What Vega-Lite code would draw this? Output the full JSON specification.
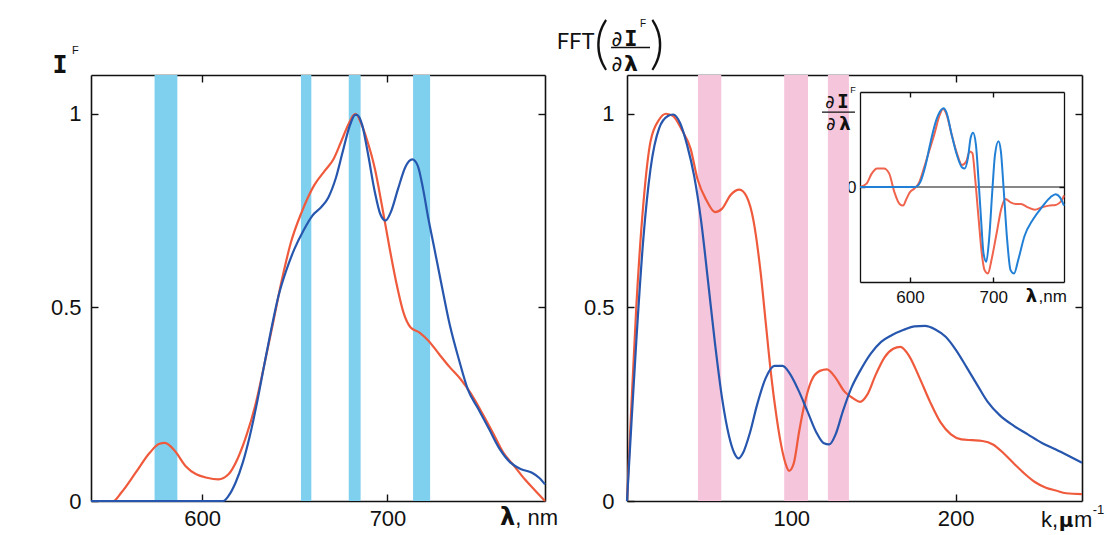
{
  "$schema": "https://vega.github.io/schema/vega-lite/v6.json",
  "width": 1107,
  "height": 535,
  "autosize": {"type": "none"},
  "padding": 0,
  "background": "white",
  "config": {
    "view": {"stroke": null},
    "axis": {"grid": false, "domainColor": "#111111", "domainWidth": 1.6, "tickColor": "#111111", "tickWidth": 1.4, "tickSize": -7, "labelFont": "Liberation Sans", "labelFontSize": 22, "labelColor": "#111111", "zindex": 1, "labelFlush": false, "labelOverlap": false},
    "text": {"color": "#111111"}
  },
  "datasets": {
    "bandsL": [{"start": 574.3, "end": 586.6}, {"start": 653.3, "end": 658.9}, {"start": 679.1, "end": 685.5}, {"start": 713.8, "end": 723.0}],
    "bandsR": [{"start": 43.2, "end": 57.4}, {"start": 95.7, "end": 110.2}, {"start": 122.3, "end": 135.1}],
    "left": [
      {"series": "red", "x": 540, "y": 0}, {"series": "red", "x": 552, "y": 0}, {"series": "red", "x": 556.4, "y": 0.022}, {"series": "red", "x": 564.1, "y": 0.073}, {"series": "red", "x": 571.8, "y": 0.125}, {"series": "red", "x": 576.6, "y": 0.147}, {"series": "red", "x": 579.9, "y": 0.15}, {"series": "red", "x": 585.3, "y": 0.129}, {"series": "red", "x": 591.1, "y": 0.09}, {"series": "red", "x": 596.8, "y": 0.069}, {"series": "red", "x": 602.6, "y": 0.06}, {"series": "red", "x": 608.8, "y": 0.056}, {"series": "red", "x": 614.2, "y": 0.069}, {"series": "red", "x": 619, "y": 0.108}, {"series": "red", "x": 623.8, "y": 0.168}, {"series": "red", "x": 628.6, "y": 0.246}, {"series": "red", "x": 633.4, "y": 0.349}, {"series": "red", "x": 638.3, "y": 0.461}, {"series": "red", "x": 643.1, "y": 0.573}, {"series": "red", "x": 647.9, "y": 0.668}, {"series": "red", "x": 653.7, "y": 0.746}, {"series": "red", "x": 660.4, "y": 0.815}, {"series": "red", "x": 666.2, "y": 0.853}, {"series": "red", "x": 671, "y": 0.884}, {"series": "red", "x": 674.9, "y": 0.927}, {"series": "red", "x": 678.7, "y": 0.97}, {"series": "red", "x": 681.6, "y": 0.996}, {"series": "red", "x": 682.8, "y": 1.0}, {"series": "red", "x": 685.5, "y": 0.978}, {"series": "red", "x": 689.3, "y": 0.927}, {"series": "red", "x": 693.2, "y": 0.858}, {"series": "red", "x": 697, "y": 0.763}, {"series": "red", "x": 700.9, "y": 0.659}, {"series": "red", "x": 704.7, "y": 0.565}, {"series": "red", "x": 708.6, "y": 0.487}, {"series": "red", "x": 712.5, "y": 0.448}, {"series": "red", "x": 717.3, "y": 0.435}, {"series": "red", "x": 722.1, "y": 0.414}, {"series": "red", "x": 727.9, "y": 0.379}, {"series": "red", "x": 733.7, "y": 0.345}, {"series": "red", "x": 739.4, "y": 0.315}, {"series": "red", "x": 745.2, "y": 0.276}, {"series": "red", "x": 751, "y": 0.228}, {"series": "red", "x": 756.8, "y": 0.177}, {"series": "red", "x": 762.5, "y": 0.125}, {"series": "red", "x": 768.3, "y": 0.091}, {"series": "red", "x": 774.1, "y": 0.056}, {"series": "red", "x": 779.9, "y": 0.026}, {"series": "red", "x": 785, "y": 0},
      {"series": "blue", "x": 540, "y": 0}, {"series": "blue", "x": 611.3, "y": 0}, {"series": "blue", "x": 614.2, "y": 0.013}, {"series": "blue", "x": 618, "y": 0.047}, {"series": "blue", "x": 621.9, "y": 0.099}, {"series": "blue", "x": 625.7, "y": 0.168}, {"series": "blue", "x": 629.6, "y": 0.254}, {"series": "blue", "x": 633.4, "y": 0.349}, {"series": "blue", "x": 637.3, "y": 0.444}, {"series": "blue", "x": 641.2, "y": 0.53}, {"series": "blue", "x": 645, "y": 0.59}, {"series": "blue", "x": 649.8, "y": 0.651}, {"series": "blue", "x": 654.6, "y": 0.698}, {"series": "blue", "x": 659.5, "y": 0.737}, {"series": "blue", "x": 664.3, "y": 0.759}, {"series": "blue", "x": 668.1, "y": 0.784}, {"series": "blue", "x": 672, "y": 0.832}, {"series": "blue", "x": 675.8, "y": 0.901}, {"series": "blue", "x": 679.7, "y": 0.97}, {"series": "blue", "x": 682.6, "y": 0.997}, {"series": "blue", "x": 683.5, "y": 0.997}, {"series": "blue", "x": 686.4, "y": 0.97}, {"series": "blue", "x": 689.3, "y": 0.901}, {"series": "blue", "x": 693.2, "y": 0.797}, {"series": "blue", "x": 696.1, "y": 0.741}, {"series": "blue", "x": 699, "y": 0.724}, {"series": "blue", "x": 701.8, "y": 0.746}, {"series": "blue", "x": 705.7, "y": 0.806}, {"series": "blue", "x": 709.6, "y": 0.862}, {"series": "blue", "x": 713.4, "y": 0.882}, {"series": "blue", "x": 716.3, "y": 0.866}, {"series": "blue", "x": 719.2, "y": 0.806}, {"series": "blue", "x": 722.1, "y": 0.728}, {"series": "blue", "x": 725, "y": 0.659}, {"series": "blue", "x": 728.9, "y": 0.565}, {"series": "blue", "x": 733.7, "y": 0.453}, {"series": "blue", "x": 738.5, "y": 0.366}, {"series": "blue", "x": 743.3, "y": 0.289}, {"series": "blue", "x": 749.1, "y": 0.237}, {"series": "blue", "x": 754.9, "y": 0.185}, {"series": "blue", "x": 760.6, "y": 0.134}, {"series": "blue", "x": 766.4, "y": 0.099}, {"series": "blue", "x": 772.2, "y": 0.082}, {"series": "blue", "x": 778, "y": 0.073}, {"series": "blue", "x": 781.8, "y": 0.06}, {"series": "blue", "x": 785, "y": 0.043}
    ],
    "right": [
      {"series": "red", "x": 0, "y": 0}, {"series": "red", "x": 2.6, "y": 0.239}, {"series": "red", "x": 5.7, "y": 0.504}, {"series": "red", "x": 10, "y": 0.769}, {"series": "red", "x": 14.3, "y": 0.928}, {"series": "red", "x": 19.6, "y": 0.985}, {"series": "red", "x": 23.8, "y": 1.0}, {"series": "red", "x": 28.1, "y": 0.994}, {"series": "red", "x": 33.4, "y": 0.958}, {"series": "red", "x": 38.7, "y": 0.91}, {"series": "red", "x": 43, "y": 0.83}, {"series": "red", "x": 48.3, "y": 0.777}, {"series": "red", "x": 53.6, "y": 0.746}, {"series": "red", "x": 57.9, "y": 0.755}, {"series": "red", "x": 63.2, "y": 0.791}, {"series": "red", "x": 68.5, "y": 0.804}, {"series": "red", "x": 72.8, "y": 0.786}, {"series": "red", "x": 77, "y": 0.724}, {"series": "red", "x": 81.3, "y": 0.592}, {"series": "red", "x": 84.5, "y": 0.459}, {"series": "red", "x": 87.7, "y": 0.327}, {"series": "red", "x": 90.9, "y": 0.221}, {"series": "red", "x": 94, "y": 0.141}, {"series": "red", "x": 96.8, "y": 0.093}, {"series": "red", "x": 98.7, "y": 0.078}, {"series": "red", "x": 101.5, "y": 0.097}, {"series": "red", "x": 104.7, "y": 0.177}, {"series": "red", "x": 107.9, "y": 0.247}, {"series": "red", "x": 112.1, "y": 0.309}, {"series": "red", "x": 117.4, "y": 0.336}, {"series": "red", "x": 121.7, "y": 0.34}, {"series": "red", "x": 127, "y": 0.318}, {"series": "red", "x": 132.3, "y": 0.283}, {"series": "red", "x": 137.7, "y": 0.265}, {"series": "red", "x": 141.9, "y": 0.256}, {"series": "red", "x": 146.2, "y": 0.274}, {"series": "red", "x": 151.5, "y": 0.327}, {"series": "red", "x": 156.8, "y": 0.371}, {"series": "red", "x": 162.1, "y": 0.393}, {"series": "red", "x": 166.4, "y": 0.398}, {"series": "red", "x": 171.7, "y": 0.375}, {"series": "red", "x": 178.1, "y": 0.318}, {"series": "red", "x": 184.5, "y": 0.256}, {"series": "red", "x": 190.9, "y": 0.203}, {"series": "red", "x": 197.2, "y": 0.172}, {"series": "red", "x": 203.6, "y": 0.159}, {"series": "red", "x": 210, "y": 0.157}, {"series": "red", "x": 216.4, "y": 0.155}, {"series": "red", "x": 222.8, "y": 0.146}, {"series": "red", "x": 229.1, "y": 0.124}, {"series": "red", "x": 235.5, "y": 0.097}, {"series": "red", "x": 241.9, "y": 0.071}, {"series": "red", "x": 248.3, "y": 0.049}, {"series": "red", "x": 254.7, "y": 0.035}, {"series": "red", "x": 261.1, "y": 0.027}, {"series": "red", "x": 267.4, "y": 0.02}, {"series": "red", "x": 277, "y": 0.018},
      {"series": "blue", "x": 0, "y": 0}, {"series": "blue", "x": 2.6, "y": 0.194}, {"series": "blue", "x": 5.7, "y": 0.415}, {"series": "blue", "x": 10, "y": 0.68}, {"series": "blue", "x": 14.3, "y": 0.857}, {"series": "blue", "x": 19.6, "y": 0.963}, {"series": "blue", "x": 24.9, "y": 0.994}, {"series": "blue", "x": 28.1, "y": 0.998}, {"series": "blue", "x": 32.3, "y": 0.976}, {"series": "blue", "x": 36.6, "y": 0.919}, {"series": "blue", "x": 40.9, "y": 0.839}, {"series": "blue", "x": 45.1, "y": 0.724}, {"series": "blue", "x": 49.4, "y": 0.565}, {"series": "blue", "x": 53.6, "y": 0.406}, {"series": "blue", "x": 57.9, "y": 0.265}, {"series": "blue", "x": 62.1, "y": 0.168}, {"series": "blue", "x": 65.3, "y": 0.124}, {"series": "blue", "x": 67.9, "y": 0.11}, {"series": "blue", "x": 70.6, "y": 0.124}, {"series": "blue", "x": 74.9, "y": 0.177}, {"series": "blue", "x": 79.1, "y": 0.247}, {"series": "blue", "x": 84.5, "y": 0.318}, {"series": "blue", "x": 89.8, "y": 0.349}, {"series": "blue", "x": 94.7, "y": 0.349}, {"series": "blue", "x": 99.4, "y": 0.327}, {"series": "blue", "x": 104.7, "y": 0.283}, {"series": "blue", "x": 110, "y": 0.23}, {"series": "blue", "x": 115.3, "y": 0.177}, {"series": "blue", "x": 119.6, "y": 0.15}, {"series": "blue", "x": 123.2, "y": 0.146}, {"series": "blue", "x": 127, "y": 0.172}, {"series": "blue", "x": 131.3, "y": 0.23}, {"series": "blue", "x": 136.6, "y": 0.292}, {"series": "blue", "x": 141.9, "y": 0.336}, {"series": "blue", "x": 148.3, "y": 0.38}, {"series": "blue", "x": 154.7, "y": 0.411}, {"series": "blue", "x": 161.1, "y": 0.428}, {"series": "blue", "x": 168.5, "y": 0.442}, {"series": "blue", "x": 174.9, "y": 0.451}, {"series": "blue", "x": 181.3, "y": 0.452}, {"series": "blue", "x": 187.7, "y": 0.443}, {"series": "blue", "x": 194, "y": 0.424}, {"series": "blue", "x": 200.4, "y": 0.389}, {"series": "blue", "x": 206.8, "y": 0.345}, {"series": "blue", "x": 213.2, "y": 0.3}, {"series": "blue", "x": 219.6, "y": 0.256}, {"series": "blue", "x": 227, "y": 0.221}, {"series": "blue", "x": 235.5, "y": 0.194}, {"series": "blue", "x": 244, "y": 0.172}, {"series": "blue", "x": 252.6, "y": 0.15}, {"series": "blue", "x": 261.1, "y": 0.133}, {"series": "blue", "x": 269.6, "y": 0.115}, {"series": "blue", "x": 277, "y": 0.099}
    ],
    "inset": [
      {"series": "red", "x": 540, "y": 0}, {"series": "red", "x": 547.9, "y": 0.036}, {"series": "red", "x": 554.2, "y": 0.143}, {"series": "red", "x": 560.4, "y": 0.196}, {"series": "red", "x": 568.8, "y": 0.196}, {"series": "red", "x": 575, "y": 0.143}, {"series": "red", "x": 581.3, "y": -0.054}, {"series": "red", "x": 587.5, "y": -0.179}, {"series": "red", "x": 591.7, "y": -0.196}, {"series": "red", "x": 595.8, "y": -0.125}, {"series": "red", "x": 600, "y": -0.054}, {"series": "red", "x": 605, "y": -0.018}, {"series": "red", "x": 610.4, "y": 0.036}, {"series": "red", "x": 616.7, "y": 0.196}, {"series": "red", "x": 622.9, "y": 0.375}, {"series": "red", "x": 629.2, "y": 0.554}, {"series": "red", "x": 635.4, "y": 0.75}, {"series": "red", "x": 639.6, "y": 0.821}, {"series": "red", "x": 643.8, "y": 0.768}, {"series": "red", "x": 650, "y": 0.554}, {"series": "red", "x": 656.3, "y": 0.357}, {"series": "red", "x": 662.5, "y": 0.232}, {"series": "red", "x": 667.5, "y": 0.268}, {"series": "red", "x": 671.7, "y": 0.375}, {"series": "red", "x": 675, "y": 0.357}, {"series": "red", "x": 678.3, "y": 0.089}, {"series": "red", "x": 682.5, "y": -0.339}, {"series": "red", "x": 686.7, "y": -0.732}, {"series": "red", "x": 689.6, "y": -0.875}, {"series": "red", "x": 693.8, "y": -0.911}, {"series": "red", "x": 697.9, "y": -0.768}, {"series": "red", "x": 704.2, "y": -0.482}, {"series": "red", "x": 709.6, "y": -0.232}, {"series": "red", "x": 714.6, "y": -0.125}, {"series": "red", "x": 720.8, "y": -0.161}, {"series": "red", "x": 727.1, "y": -0.179}, {"series": "red", "x": 733.3, "y": -0.179}, {"series": "red", "x": 741.7, "y": -0.214}, {"series": "red", "x": 750, "y": -0.239}, {"series": "red", "x": 758.3, "y": -0.214}, {"series": "red", "x": 766.7, "y": -0.196}, {"series": "red", "x": 775, "y": -0.189}, {"series": "red", "x": 783.3, "y": -0.125}, {"series": "red", "x": 785, "y": -0.089},
      {"series": "blue", "x": 540, "y": 0}, {"series": "blue", "x": 606.3, "y": 0}, {"series": "blue", "x": 612.5, "y": 0.054}, {"series": "blue", "x": 618.8, "y": 0.232}, {"series": "blue", "x": 625, "y": 0.482}, {"series": "blue", "x": 631.3, "y": 0.696}, {"series": "blue", "x": 637.5, "y": 0.811}, {"series": "blue", "x": 640.4, "y": 0.829}, {"series": "blue", "x": 643.8, "y": 0.786}, {"series": "blue", "x": 650, "y": 0.554}, {"series": "blue", "x": 656.3, "y": 0.339}, {"series": "blue", "x": 662.5, "y": 0.207}, {"series": "blue", "x": 665.8, "y": 0.196}, {"series": "blue", "x": 669.6, "y": 0.304}, {"series": "blue", "x": 672.9, "y": 0.518}, {"series": "blue", "x": 675.8, "y": 0.571}, {"series": "blue", "x": 679.2, "y": 0.446}, {"series": "blue", "x": 682.5, "y": 0.054}, {"series": "blue", "x": 685.4, "y": -0.339}, {"series": "blue", "x": 688.3, "y": -0.696}, {"series": "blue", "x": 691.7, "y": -0.786}, {"series": "blue", "x": 695, "y": -0.554}, {"series": "blue", "x": 698.8, "y": -0.054}, {"series": "blue", "x": 702.1, "y": 0.339}, {"series": "blue", "x": 706.3, "y": 0.482}, {"series": "blue", "x": 709.2, "y": 0.375}, {"series": "blue", "x": 712.5, "y": -0.018}, {"series": "blue", "x": 716.7, "y": -0.554}, {"series": "blue", "x": 720.8, "y": -0.875}, {"series": "blue", "x": 725, "y": -0.911}, {"series": "blue", "x": 730, "y": -0.768}, {"series": "blue", "x": 737.5, "y": -0.518}, {"series": "blue", "x": 747.9, "y": -0.339}, {"series": "blue", "x": 758.3, "y": -0.214}, {"series": "blue", "x": 768.8, "y": -0.107}, {"series": "blue", "x": 775, "y": -0.075}, {"series": "blue", "x": 780, "y": -0.107}, {"series": "blue", "x": 785, "y": -0.196}
    ]
  },
  "resolve": {"scale": {"x": "independent", "y": "independent", "color": "independent"}, "axis": {"x": "independent", "y": "independent"}},
  "layer": [
    {
      "resolve": {"axis": {"x": "independent", "y": "independent"}},
      "layer": [
        {"data": {"name": "bandsL"}, "mark": {"type": "rect", "color": "#7fd0ee"},
         "encoding": {
           "x": {"field": "start", "type": "quantitative", "scale": {"domain": [540, 785], "range": [91, 545], "nice": false, "zero": false}, "axis": null},
           "x2": {"field": "end"},
           "y": {"datum": 0, "scale": {"domain": [0, 1.1], "range": [501, 75], "nice": false, "zero": false}, "axis": null},
           "y2": {"datum": 1.1}}},
        {"data": {"name": "left"}, "mark": {"type": "point", "opacity": 0},
         "encoding": {
           "x": {"field": "x", "type": "quantitative", "scale": {"domain": [540, 785], "range": [91, 545], "nice": false, "zero": false}, "axis": {"orient": "top", "offset": -75, "values": [600, 700], "labels": false, "title": null}},
           "y": {"field": "y", "type": "quantitative", "scale": {"domain": [0, 1.1], "range": [501, 75], "nice": false, "zero": false}, "axis": {"orient": "right", "offset": -562, "values": [0.5, 1], "labels": false, "title": null}}}},
        {"data": {"name": "left"}, "mark": {"type": "line", "strokeWidth": 2.2, "interpolate": "monotone"},
         "encoding": {
           "x": {"field": "x", "type": "quantitative", "scale": {"domain": [540, 785], "range": [91, 545], "nice": false, "zero": false}, "axis": {"orient": "bottom", "offset": -34, "values": [600, 700], "labelPadding": 31, "labelBaseline": "alphabetic", "title": null}},
           "y": {"field": "y", "type": "quantitative", "scale": {"domain": [0, 1.1], "range": [501, 75], "nice": false, "zero": false}, "axis": {"orient": "left", "offset": -91, "values": [0, 0.5, 1], "format": "~g", "labelPadding": 17, "title": null}},
           "color": {"field": "series", "type": "nominal", "scale": {"domain": ["red", "blue"], "range": ["#ef5a3c", "#2656ad"]}, "legend": null}}},
        {"data": {"values": [{}]}, "mark": {"type": "text", "text": "I", "font": "DejaVu Sans Mono", "fontWeight": "bold", "fontSize": 25, "align": "center", "baseline": "alphabetic"},
         "encoding": {"x": {"datum": 523.3, "scale": {"domain": [540, 785], "range": [91, 545], "nice": false, "zero": false}, "axis": null}, "y": {"datum": 1.106, "scale": {"domain": [0, 1.1], "range": [501, 75], "nice": false, "zero": false}, "axis": null}}},
        {"data": {"values": [{}]}, "mark": {"type": "text", "text": "F", "font": "Liberation Sans", "fontSize": 11, "align": "center", "baseline": "alphabetic"},
         "encoding": {"x": {"datum": 531.6, "scale": {"domain": [540, 785], "range": [91, 545], "nice": false, "zero": false}, "axis": null}, "y": {"datum": 1.153, "scale": {"domain": [0, 1.1], "range": [501, 75], "nice": false, "zero": false}, "axis": null}}},
        {"data": {"values": [{}]}, "mark": {"type": "text", "text": "λ", "font": "DejaVu Sans", "fontWeight": "bold", "fontSize": 24, "align": "center", "baseline": "alphabetic"},
         "encoding": {"x": {"datum": 764.8, "scale": {"domain": [540, 785], "range": [91, 545], "nice": false, "zero": false}, "axis": null}, "y": {"datum": -0.062, "scale": {"domain": [0, 1.1], "range": [501, 75], "nice": false, "zero": false}, "axis": null}}},
        {"data": {"values": [{}]}, "mark": {"type": "text", "text": ", nm", "font": "Liberation Sans", "fontSize": 22, "align": "left", "baseline": "alphabetic"},
         "encoding": {"x": {"datum": 769, "scale": {"domain": [540, 785], "range": [91, 545], "nice": false, "zero": false}, "axis": null}, "y": {"datum": -0.062, "scale": {"domain": [0, 1.1], "range": [501, 75], "nice": false, "zero": false}, "axis": null}}}
      ]
    },
    {
      "resolve": {"axis": {"x": "independent", "y": "independent"}},
      "layer": [
        {"data": {"name": "bandsR"}, "mark": {"type": "rect", "color": "#f5c5dc"},
         "encoding": {
           "x": {"field": "start", "type": "quantitative", "scale": {"domain": [0, 277], "range": [627, 1082], "nice": false, "zero": false}, "axis": null},
           "x2": {"field": "end"},
           "y": {"datum": 0, "scale": {"domain": [0, 1.1], "range": [501, 75], "nice": false, "zero": false}, "axis": null},
           "y2": {"datum": 1.1}}},
        {"data": {"name": "right"}, "mark": {"type": "point", "opacity": 0},
         "encoding": {
           "x": {"field": "x", "type": "quantitative", "scale": {"domain": [0, 277], "range": [627, 1082], "nice": false, "zero": false}, "axis": {"orient": "top", "offset": -75, "values": [100, 200], "labels": false, "title": null}},
           "y": {"field": "y", "type": "quantitative", "scale": {"domain": [0, 1.1], "range": [501, 75], "nice": false, "zero": false}, "axis": {"orient": "right", "offset": -25, "values": [0.5, 1], "labels": false, "title": null}}}},
        {"data": {"name": "right"}, "mark": {"type": "line", "strokeWidth": 2.2, "interpolate": "monotone"},
         "encoding": {
           "x": {"field": "x", "type": "quantitative", "scale": {"domain": [0, 277], "range": [627, 1082], "nice": false, "zero": false}, "axis": {"orient": "bottom", "offset": -34, "values": [100, 200], "labelPadding": 31, "labelBaseline": "alphabetic", "title": null}},
           "y": {"field": "y", "type": "quantitative", "scale": {"domain": [0, 1.1], "range": [501, 75], "nice": false, "zero": false}, "axis": {"orient": "left", "offset": -627, "values": [0, 0.5, 1], "format": "~g", "labelPadding": 20, "title": null}},
           "color": {"field": "series", "type": "nominal", "scale": {"domain": ["red", "blue"], "range": ["#ef5a3c", "#2656ad"]}, "legend": null}}},
        {"data": {"values": [{}]}, "mark": {"type": "text", "text": "FFT", "font": "Roboto", "fontSize": 22, "align": "left", "baseline": "alphabetic"},
         "encoding": {"x": {"datum": -42.6, "scale": {"domain": [0, 277], "range": [627, 1082], "nice": false, "zero": false}, "axis": null}, "y": {"datum": 1.168, "scale": {"domain": [0, 1.1], "range": [501, 75], "nice": false, "zero": false}, "axis": null}}},
        {"data": {"values": [{}]}, "mark": {"type": "text", "text": "(", "font": "Lato", "fontWeight": 300, "fontSize": 58, "align": "center", "baseline": "middle"},
         "encoding": {"x": {"datum": -15.5, "scale": {"domain": [0, 277], "range": [627, 1082], "nice": false, "zero": false}, "axis": null}, "y": {"datum": 1.176, "scale": {"domain": [0, 1.1], "range": [501, 75], "nice": false, "zero": false}, "axis": null}}},
        {"data": {"values": [{}]}, "mark": {"type": "text", "text": ")", "font": "Lato", "fontWeight": 300, "fontSize": 58, "align": "center", "baseline": "middle"},
         "encoding": {"x": {"datum": 18.3, "scale": {"domain": [0, 277], "range": [627, 1082], "nice": false, "zero": false}, "axis": null}, "y": {"datum": 1.176, "scale": {"domain": [0, 1.1], "range": [501, 75], "nice": false, "zero": false}, "axis": null}}},
        {"data": {"values": [{}]}, "mark": {"type": "rule", "color": "#111111", "strokeWidth": 1.3},
         "encoding": {"x": {"datum": -9.7, "scale": {"domain": [0, 277], "range": [627, 1082], "nice": false, "zero": false}, "axis": null}, "x2": {"datum": 14.0}, "y": {"datum": 1.171, "scale": {"domain": [0, 1.1], "range": [501, 75], "nice": false, "zero": false}, "axis": null}}},
        {"data": {"values": [{}]}, "mark": {"type": "text", "text": "∂", "font": "DejaVu Sans", "fontSize": 21, "align": "center", "baseline": "alphabetic"},
         "encoding": {"x": {"datum": -6.1, "scale": {"domain": [0, 277], "range": [627, 1082], "nice": false, "zero": false}, "axis": null}, "y": {"datum": 1.176, "scale": {"domain": [0, 1.1], "range": [501, 75], "nice": false, "zero": false}, "axis": null}}},
        {"data": {"values": [{}]}, "mark": {"type": "text", "text": "I", "font": "DejaVu Sans Mono", "fontWeight": "bold", "fontSize": 22, "align": "center", "baseline": "alphabetic"},
         "encoding": {"x": {"datum": 2.4, "scale": {"domain": [0, 277], "range": [627, 1082], "nice": false, "zero": false}, "axis": null}, "y": {"datum": 1.176, "scale": {"domain": [0, 1.1], "range": [501, 75], "nice": false, "zero": false}, "axis": null}}},
        {"data": {"values": [{}]}, "mark": {"type": "text", "text": "F", "font": "Liberation Sans", "fontSize": 10, "align": "center", "baseline": "alphabetic"},
         "encoding": {"x": {"datum": 9.7, "scale": {"domain": [0, 277], "range": [627, 1082], "nice": false, "zero": false}, "axis": null}, "y": {"datum": 1.225, "scale": {"domain": [0, 1.1], "range": [501, 75], "nice": false, "zero": false}, "axis": null}}},
        {"data": {"values": [{}]}, "mark": {"type": "text", "text": "∂", "font": "DejaVu Sans", "fontSize": 21, "align": "center", "baseline": "alphabetic"},
         "encoding": {"x": {"datum": -6.1, "scale": {"domain": [0, 277], "range": [627, 1082], "nice": false, "zero": false}, "axis": null}, "y": {"datum": 1.111, "scale": {"domain": [0, 1.1], "range": [501, 75], "nice": false, "zero": false}, "axis": null}}},
        {"data": {"values": [{}]}, "mark": {"type": "text", "text": "λ", "font": "DejaVu Sans", "fontWeight": "bold", "fontSize": 22, "align": "center", "baseline": "alphabetic"},
         "encoding": {"x": {"datum": 2.4, "scale": {"domain": [0, 277], "range": [627, 1082], "nice": false, "zero": false}, "axis": null}, "y": {"datum": 1.111, "scale": {"domain": [0, 1.1], "range": [501, 75], "nice": false, "zero": false}, "axis": null}}},
        {"data": {"values": [{}]}, "mark": {"type": "text", "text": "k,", "font": "Liberation Sans", "fontSize": 22, "align": "left", "baseline": "alphabetic"},
         "encoding": {"x": {"datum": 252.0, "scale": {"domain": [0, 277], "range": [627, 1082], "nice": false, "zero": false}, "axis": null}, "y": {"datum": -0.067, "scale": {"domain": [0, 1.1], "range": [501, 75], "nice": false, "zero": false}, "axis": null}}},
        {"data": {"values": [{}]}, "mark": {"type": "text", "text": "μ", "font": "DejaVu Sans", "fontWeight": "bold", "fontSize": 20, "align": "center", "baseline": "alphabetic"},
         "encoding": {"x": {"datum": 267.3, "scale": {"domain": [0, 277], "range": [627, 1082], "nice": false, "zero": false}, "axis": null}, "y": {"datum": -0.067, "scale": {"domain": [0, 1.1], "range": [501, 75], "nice": false, "zero": false}, "axis": null}}},
        {"data": {"values": [{}]}, "mark": {"type": "text", "text": "m", "font": "Liberation Sans", "fontSize": 22, "align": "left", "baseline": "alphabetic"},
         "encoding": {"x": {"datum": 272.1, "scale": {"domain": [0, 277], "range": [627, 1082], "nice": false, "zero": false}, "axis": null}, "y": {"datum": -0.067, "scale": {"domain": [0, 1.1], "range": [501, 75], "nice": false, "zero": false}, "axis": null}}},
        {"data": {"values": [{}]}, "mark": {"type": "text", "text": "-1", "font": "Liberation Sans", "fontSize": 13, "align": "left", "baseline": "alphabetic"},
         "encoding": {"x": {"datum": 283.5, "scale": {"domain": [0, 277], "range": [627, 1082], "nice": false, "zero": false}, "axis": null}, "y": {"datum": -0.034, "scale": {"domain": [0, 1.1], "range": [501, 75], "nice": false, "zero": false}, "axis": null}}}
      ]
    },
    {
      "resolve": {"axis": {"x": "independent", "y": "independent"}},
      "layer": [
        {"data": {"values": [{}]}, "mark": {"type": "rule", "color": "#111111", "strokeWidth": 1.2},
         "encoding": {"x": {"datum": 540, "scale": {"domain": [540, 785], "range": [860, 1064], "nice": false, "zero": false}, "axis": null}, "x2": {"datum": 785}, "y": {"datum": 0, "scale": {"domain": [-1, 1], "range": [282, 92], "nice": false, "zero": false}, "axis": null}}},
        {"data": {"name": "inset"}, "mark": {"type": "point", "opacity": 0},
         "encoding": {
           "x": {"field": "x", "type": "quantitative", "scale": {"domain": [540, 785], "range": [860, 1064], "nice": false, "zero": false}, "axis": {"orient": "top", "offset": -92, "values": [600, 700], "labels": false, "title": null, "tickSize": -5, "domainWidth": 1.3}},
           "y": {"field": "y", "type": "quantitative", "scale": {"domain": [-1, 1], "range": [282, 92], "nice": false, "zero": false}, "axis": {"orient": "right", "offset": -43, "values": [0], "labels": false, "title": null, "tickSize": -5, "domainWidth": 1.3}}}},
        {"data": {"name": "inset"}, "mark": {"type": "line", "strokeWidth": 2, "interpolate": "monotone"},
         "encoding": {
           "x": {"field": "x", "type": "quantitative", "scale": {"domain": [540, 785], "range": [860, 1064], "nice": false, "zero": false}, "axis": {"orient": "bottom", "offset": -253, "values": [600, 700], "labelPadding": 25, "labelBaseline": "alphabetic", "labelFontSize": 17, "tickSize": -5, "domainWidth": 1.3, "title": null}},
           "y": {"field": "y", "type": "quantitative", "scale": {"domain": [-1, 1], "range": [282, 92], "nice": false, "zero": false}, "axis": {"orient": "left", "offset": -860, "values": [0], "format": "~g", "labelPadding": 9, "labelFontSize": 17, "tickSize": -5, "domainWidth": 1.3, "title": null}},
           "color": {"field": "series", "type": "nominal", "scale": {"domain": ["red", "blue"], "range": ["#f0634c", "#2180d6"]}, "legend": null}}},
        {"data": {"values": [{}]}, "mark": {"type": "text", "text": "∂", "font": "DejaVu Sans", "fontSize": 18, "align": "center", "baseline": "alphabetic"},
         "encoding": {"x": {"datum": 504.0, "scale": {"domain": [540, 785], "range": [860, 1064], "nice": false, "zero": false}, "axis": null}, "y": {"datum": 0.832, "scale": {"domain": [-1, 1], "range": [282, 92], "nice": false, "zero": false}, "axis": null}}},
        {"data": {"values": [{}]}, "mark": {"type": "text", "text": "I", "font": "DejaVu Sans Mono", "fontWeight": "bold", "fontSize": 19, "align": "center", "baseline": "alphabetic"},
         "encoding": {"x": {"datum": 519.6, "scale": {"domain": [540, 785], "range": [860, 1064], "nice": false, "zero": false}, "axis": null}, "y": {"datum": 0.832, "scale": {"domain": [-1, 1], "range": [282, 92], "nice": false, "zero": false}, "axis": null}}},
        {"data": {"values": [{}]}, "mark": {"type": "text", "text": "F", "font": "Liberation Sans", "fontSize": 9, "align": "center", "baseline": "alphabetic"},
         "encoding": {"x": {"datum": 531.6, "scale": {"domain": [540, 785], "range": [860, 1064], "nice": false, "zero": false}, "axis": null}, "y": {"datum": 0.99, "scale": {"domain": [-1, 1], "range": [282, 92], "nice": false, "zero": false}, "axis": null}}},
        {"data": {"values": [{}]}, "mark": {"type": "rule", "color": "#111111", "strokeWidth": 1.2},
         "encoding": {"x": {"datum": 494.4, "scale": {"domain": [540, 785], "range": [860, 1064], "nice": false, "zero": false}, "axis": null}, "x2": {"datum": 534.0}, "y": {"datum": 0.789, "scale": {"domain": [-1, 1], "range": [282, 92], "nice": false, "zero": false}, "axis": null}}},
        {"data": {"values": [{}]}, "mark": {"type": "text", "text": "∂", "font": "DejaVu Sans", "fontSize": 18, "align": "center", "baseline": "alphabetic"},
         "encoding": {"x": {"datum": 505.2, "scale": {"domain": [540, 785], "range": [860, 1064], "nice": false, "zero": false}, "axis": null}, "y": {"datum": 0.6, "scale": {"domain": [-1, 1], "range": [282, 92], "nice": false, "zero": false}, "axis": null}}},
        {"data": {"values": [{}]}, "mark": {"type": "text", "text": "λ", "font": "DejaVu Sans", "fontWeight": "bold", "fontSize": 18, "align": "center", "baseline": "alphabetic"},
         "encoding": {"x": {"datum": 522.0, "scale": {"domain": [540, 785], "range": [860, 1064], "nice": false, "zero": false}, "axis": null}, "y": {"datum": 0.6, "scale": {"domain": [-1, 1], "range": [282, 92], "nice": false, "zero": false}, "axis": null}}},
        {"data": {"values": [{}]}, "mark": {"type": "text", "text": "λ", "font": "DejaVu Sans", "fontWeight": "bold", "fontSize": 18, "align": "center", "baseline": "alphabetic"},
         "encoding": {"x": {"datum": 745.9, "scale": {"domain": [540, 785], "range": [860, 1064], "nice": false, "zero": false}, "axis": null}, "y": {"datum": -1.21, "scale": {"domain": [-1, 1], "range": [282, 92], "nice": false, "zero": false}, "axis": null}}},
        {"data": {"values": [{}]}, "mark": {"type": "text", "text": ",nm", "font": "Liberation Sans", "fontSize": 17, "align": "left", "baseline": "alphabetic"},
         "encoding": {"x": {"datum": 754.5, "scale": {"domain": [540, 785], "range": [860, 1064], "nice": false, "zero": false}, "axis": null}, "y": {"datum": -1.21, "scale": {"domain": [-1, 1], "range": [282, 92], "nice": false, "zero": false}, "axis": null}}}
      ]
    }
  ]
}
